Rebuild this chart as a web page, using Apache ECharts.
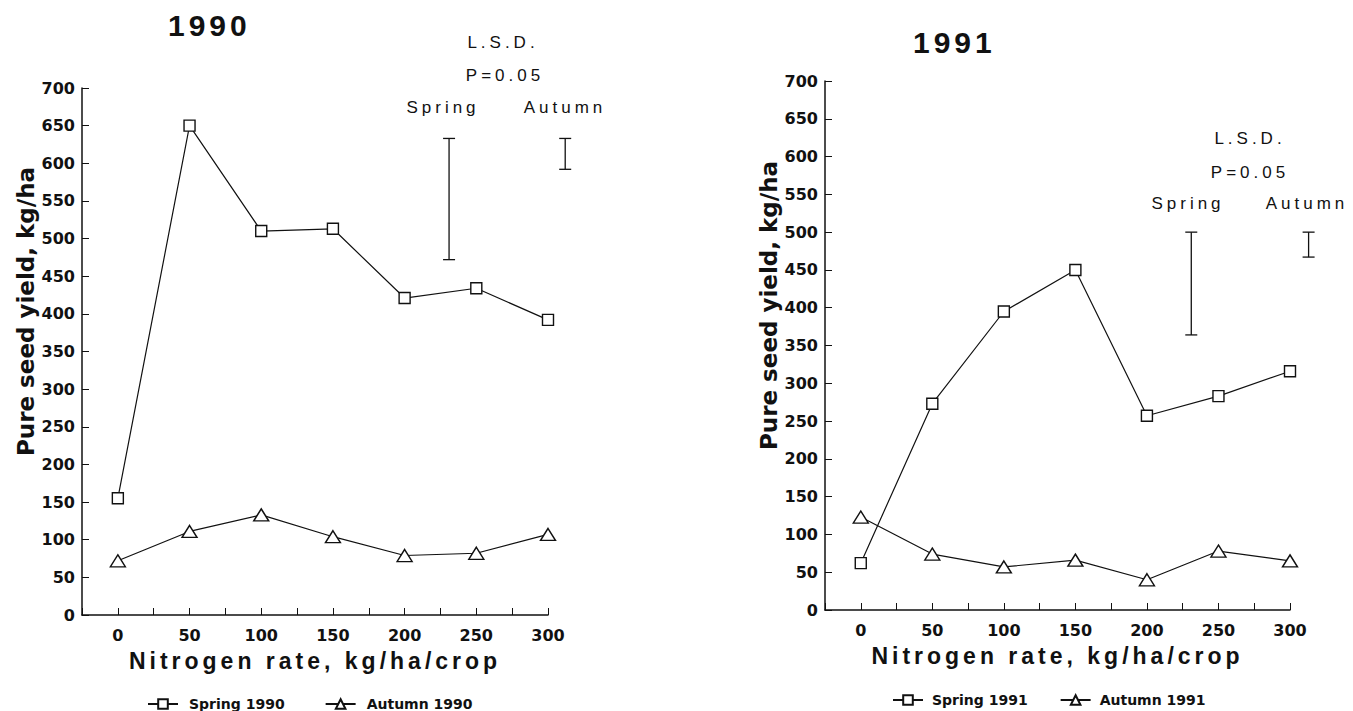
<!DOCTYPE html>
<html>
<head>
<meta charset="utf-8">
<script src="https://cdn.jsdelivr.net/npm/echarts@6/dist/echarts.min.js"></script>
<style>
  html, body { margin: 0; padding: 0; background: #fff; }
  #chart { width: 1353px; height: 711px; }
</style>
</head>
<body>
<div id="chart"></div>
<script>
  // nitrogen rates, kg/ha/crop
  const nitrogen = [0, 50, 100, 150, 200, 250, 300]
  const yTicks = [0, 50, 100, 150, 200, 250, 300, 350, 400, 450, 500, 550, 600, 650, 700]

  // pure seed yield, kg/ha
  const spring1990 = [155, 650, 510, 513, 421, 434, 392]
  const autumn1990 = [72, 111, 133, 104, 79, 82, 107]
  const spring1991 = [62, 273, 395, 450, 257, 283, 316]
  const autumn1991 = [123, 74, 57, 66, 40, 78, 65]

  // L.S.D. (P=0.05) bars: [x position, low, high]
  const lsd1990 = [[231, 472, 633], [312, 592, 633]]
  const lsd1991 = [[231, 364, 500], [313, 467, 500]]

  const bold = '"DejaVu Sans", sans-serif'
  const plain = '"Liberation Sans", Arial, sans-serif'
  const black = '#111'

  const myChart = echarts.init(document.getElementById('chart'), null, { renderer: 'svg' })

  const pairs = (ys) => nitrogen.map((x, i) => [x, ys[i]])

  function xAxis(gridIndex) {
    return {
      gridIndex,
      type: 'value',
      min: -25,
      max: 300,
      interval: 25,
      name: 'Nitrogen rate, kg/ha/crop',
      nameLocation: 'middle',
      nameGap: 34,
      nameTextStyle: { color: black, fontFamily: plain, fontWeight: 'bold', fontSize: 23 },
      axisLine: { onZero: false, lineStyle: { color: black, width: 1.5 } },
      axisTick: { inside: true, length: 7, lineStyle: { color: black } },
      axisLabel: {
        color: black, fontFamily: bold, fontWeight: 'bold', fontSize: 16, margin: 12,
        formatter: v => (v >= 0 && v % 50 === 0) ? String(v) : ''
      },
      splitLine: { show: false }
    }
  }

  function yAxis(gridIndex) {
    return {
      gridIndex,
      type: 'value',
      min: yTicks[0],
      max: yTicks[yTicks.length - 1],
      interval: 50,
      name: 'Pure seed yield, kg/ha',
      nameLocation: 'middle',
      nameGap: 40,
      nameTextStyle: { color: black, fontFamily: bold, fontWeight: 'bold', fontSize: 23, padding: [0, 0, 0, 80] },
      axisLine: { show: true, onZero: false, lineStyle: { color: black, width: 1.5 } },
      axisTick: { inside: true, length: 7, lineStyle: { color: black } },
      axisLabel: { color: black, fontFamily: bold, fontWeight: 'bold', fontSize: 16, margin: 7 },
      splitLine: { show: false }
    }
  }

  function lineSeries(name, data, symbol, idx) {
    return {
      name,
      type: 'line',
      xAxisIndex: idx,
      yAxisIndex: idx,
      data: pairs(data),
      symbol,
      symbolSize: symbol === 'triangle' ? [15, 12] : 11,
      showAllSymbol: true,
      lineStyle: { color: black, width: 1.2 },
      itemStyle: { color: '#fff', borderColor: black, borderWidth: 1.4 },
      z: 3
    }
  }

  function lsdSeries(data, idx) {
    return {
      type: 'custom',
      xAxisIndex: idx,
      yAxisIndex: idx,
      clip: false,
      silent: true,
      data,
      renderItem(params, api) {
        const top = api.coord([api.value(0), api.value(2)])
        const bottom = api.coord([api.value(0), api.value(1)])
        const cap = 6
        const style = { stroke: black, lineWidth: 1.3 }
        return {
          type: 'group',
          children: [
            { type: 'line', shape: { x1: top[0], y1: top[1], x2: bottom[0], y2: bottom[1] }, style },
            { type: 'line', shape: { x1: top[0] - cap, y1: top[1], x2: top[0] + cap, y2: top[1] }, style },
            { type: 'line', shape: { x1: bottom[0] - cap, y1: bottom[1], x2: bottom[0] + cap, y2: bottom[1] }, style }
          ]
        }
      }
    }
  }

  const note = (text, x, y) => ({
    type: 'text', x, y,
    style: { text, fill: black, font: '17px ' + plain, align: 'center', verticalAlign: 'middle' }
  })

  this.option = {
    backgroundColor: '#fff',
    animation: false,
    title: [
      { text: '1990', left: 163, top: 5, textStyle: { color: black, fontFamily: plain, fontWeight: 'bold', fontSize: 30 } },
      { text: '1991', left: 908, top: 22, textStyle: { color: black, fontFamily: plain, fontWeight: 'bold', fontSize: 30 } }
    ],
    legend: [
      {
        data: ['Spring 1990', 'Autumn 1990'],
        left: 142, top: 692, itemGap: 40, itemWidth: 30, itemHeight: 12,
        textStyle: { color: black, fontFamily: bold, fontWeight: 'bold', fontSize: 14, padding: [0, 0, 0, 6] }
      },
      {
        data: ['Spring 1991', 'Autumn 1991'],
        left: 887, top: 688, itemGap: 32, itemWidth: 30, itemHeight: 12,
        textStyle: { color: black, fontFamily: bold, fontWeight: 'bold', fontSize: 14, padding: [0, 0, 0, 4] }
      }
    ],
    grid: [
      { left: 82, top: 88, width: 466, height: 527 },
      { left: 825, top: 81, width: 465, height: 529 }
    ],
    xAxis: [xAxis(0), xAxis(1)],
    yAxis: [yAxis(0), yAxis(1)],
    series: [
      lineSeries('Spring 1990', spring1990, 'rect', 0),
      lineSeries('Autumn 1990', autumn1990, 'triangle', 0),
      lineSeries('Spring 1991', spring1991, 'rect', 1),
      lineSeries('Autumn 1991', autumn1991, 'triangle', 1),
      lsdSeries(lsd1990, 0),
      lsdSeries(lsd1991, 1)
    ],
    graphic: [
      note('L.S.D.', 503, 42),
      note('P=0.05', 505, 75),
      note('Spring', 443, 107),
      note('Autumn', 565, 107),
      note('L.S.D.', 1250, 138),
      note('P=0.05', 1250, 172),
      note('Spring', 1188, 203),
      note('Autumn', 1307, 203)
    ]
  }

  myChart.setOption(this.option)

  // the original is typeset with wide letter spacing
  const spacing = { '1990': 4, '1991': 4, 'Nitrogen rate, kg/ha/crop': 4, 'L.S.D.': 4, 'P=0.05': 4, 'Spring': 4, 'Autumn': 4 }
  function spaceOut() {
    myChart.getDom().querySelectorAll('text').forEach(t => {
      const s = spacing[t.textContent.trim()]
      if (s) t.setAttribute('letter-spacing', s)
    })
  }
  spaceOut()
  myChart.on('finished', spaceOut)
</script>
</body>
</html>
